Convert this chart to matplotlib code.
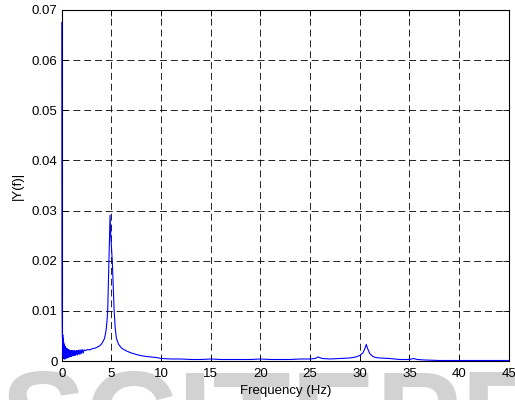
import matplotlib
matplotlib.use("Agg")
import matplotlib.pyplot as plt

plt.rcParams['font.family'] = ['Liberation Sans', 'DejaVu Sans']
plt.rcParams['lines.scale_dashes'] = False

# spectrum
freq = [0, 0.02, 0.05, 0.08, 0.1, 0.12, 0.14, 0.16, 0.18, 0.2, 0.22, 0.24,
        0.26, 0.28, 0.3, 0.32, 0.34, 0.36, 0.38, 0.4, 0.43, 0.46, 0.49,
        0.52, 0.55, 0.58, 0.61, 0.64, 0.67, 0.7, 0.74, 0.78, 0.82, 0.86,
        0.9, 0.94, 0.98, 1.02, 1.07, 1.12, 1.17, 1.22, 1.27, 1.32, 1.38,
        1.44, 1.5, 1.56, 1.62, 1.68, 1.75, 1.82, 1.9, 1.98, 2.06, 2.15,
        2.25, 2.4, 2.6, 2.8, 3.0, 3.2, 3.4, 3.6, 3.8, 4.0, 4.15, 4.3, 4.45,
        4.55, 4.62, 4.68, 4.73, 4.79, 4.86, 4.93, 5.0, 5.08, 5.17, 5.27,
        5.38, 5.5, 5.7, 6.0, 6.5, 7.0, 7.5, 7.9, 8.5, 9.0, 9.5, 10.0, 11,
        12, 13, 14, 15, 16, 17, 18, 19, 20, 21, 22, 23, 24, 25, 25.5, 25.8,
        26.2, 27, 28, 29, 29.6, 30.0, 30.3, 30.5, 30.65, 30.8, 31.0, 31.3,
        31.6, 32, 33, 34, 35, 35.4, 35.8, 36.5, 38, 40, 42, 45]
mag = [0.0675, 0.012, 0.0056, 0.0035, 0.0052, 0.0012, 0.0045, 0.0008,
       0.0038, 0.0006, 0.0034, 0.0004, 0.0032, 0.0005, 0.003, 0.0004,
       0.0028, 0.0006, 0.0027, 0.0005, 0.0026, 0.0007, 0.0025, 0.0006,
       0.0024, 0.0008, 0.0023, 0.0007, 0.0022, 0.0009, 0.0022, 0.0008,
       0.0021, 0.001, 0.0021, 0.0009, 0.002, 0.0011, 0.0021, 0.001,
       0.002, 0.0012, 0.0021, 0.0011, 0.002, 0.0013, 0.0021, 0.0012,
       0.0021, 0.0014, 0.0022, 0.0013, 0.0022, 0.0015, 0.0023, 0.0016,
       0.0022, 0.0021, 0.0023, 0.0022, 0.0024, 0.0025, 0.0026, 0.0028,
       0.003, 0.0034, 0.0039, 0.0045, 0.006, 0.008, 0.01, 0.015, 0.02,
       0.025, 0.0291, 0.025, 0.0225, 0.02, 0.015, 0.01, 0.0065, 0.0045,
       0.0034, 0.0026, 0.002, 0.0016, 0.0013, 0.0011, 0.0009, 0.0008,
       0.0007, 0.0005, 0.0004, 0.0004, 0.0003, 0.0003, 0.0004, 0.0003,
       0.0003, 0.0003, 0.0003, 0.0004, 0.0003, 0.0003, 0.0003, 0.0004,
       0.0004, 0.0005, 0.0008, 0.0005, 0.0004, 0.0005, 0.0006, 0.0008,
       0.0011, 0.0016, 0.0024, 0.0033, 0.0024, 0.0015, 0.0009, 0.0007,
       0.0006, 0.0005, 0.0003, 0.0003, 0.0005, 0.0003, 0.0002, 0.0001,
       0.0001, 0.0001, 0.0001]

xticks = [0, 5, 10, 15, 20, 25, 30, 35, 40, 45]
yticks = [0, 0.01, 0.02, 0.03, 0.04, 0.05, 0.06, 0.07]
yticklabels = ['0', '0.01', '0.02', '0.03', '0.04', '0.05', '0.06', '0.07']

fig = plt.figure(figsize=(5.15, 4.0), dpi=100)
ax = fig.add_axes([0.120, 0.0975, 0.868, 0.8775])

ax.plot(freq, mag, color='#0000ff', linewidth=0.8, zorder=3, clip_on=False)

ax.set_xlim(0, 45)
ax.set_ylim(0, 0.07)
ax.set_xticks(xticks)
ax.set_yticks(yticks)
ax.set_yticklabels(yticklabels)
ax.tick_params(direction='in', length=4, width=0.6, labelsize=9.5,
               top=True, right=True)
ax.tick_params(axis='x', pad=5)
ax.tick_params(axis='y', pad=3)
ax.grid(True, color='black', linestyle=(0, (5, 2.8)), linewidth=0.6)
for s in ax.spines.values():
    s.set_linewidth(0.8)

ax.set_xlabel('Frequency (Hz)', fontsize=9.5, labelpad=3.5)
ax.set_ylabel('|Y(f)|', fontsize=9.5, labelpad=6)

# faint watermark at the bottom, behind everything
fig.text(0.0, -0.1525, 'SCITEPRESS', fontsize=92, fontweight='bold',
         color='#d2d2d2', zorder=-1)

fig.savefig('out.png', dpi=100)
